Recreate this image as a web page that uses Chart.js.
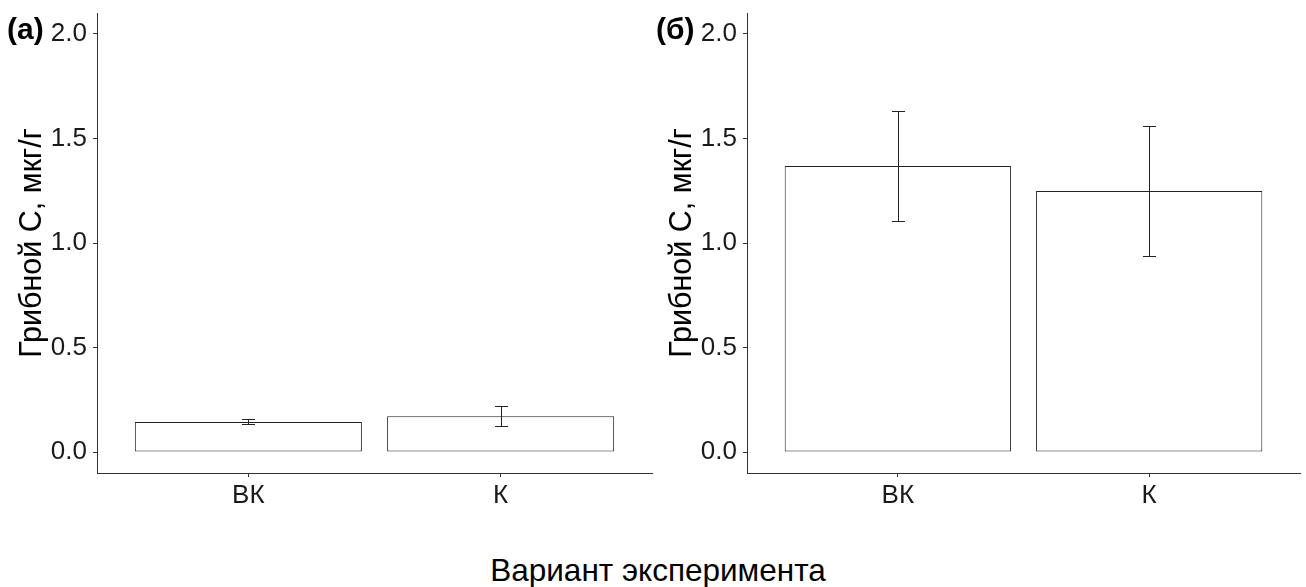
<!DOCTYPE html>
<html>
<head>
<meta charset="utf-8">
<script src="https://cdn.jsdelivr.net/npm/chart.js@4.4.0/dist/chart.umd.min.js"></script>
<style>
  body { margin: 0; background: #fff; width: 1306px; height: 587px; position: relative; overflow: hidden; font-family: "Liberation Sans", Arial, sans-serif; }
  .panel { position: absolute; top: 0; height: 530px; }
  .tag { position: absolute; top: 14px; font-size: 30px; line-height: 1; font-weight: bold; color: #000; }
  #xtitle { position: absolute; left: 0; width: 1316px; top: 552px; text-align: center; font-size: 31.5px; color: #000; }
</style>
</head>
<body>
<div class="panel" style="left:0;width:655px"><canvas id="chartA"></canvas></div>
<div class="panel" style="left:650px;width:656px"><canvas id="chartB"></canvas></div>
<div class="tag" style="left:7px">(а)</div>
<div class="tag" style="left:656px">(б)</div>
<div id="xtitle">Вариант эксперимента</div>
<script>
// подписи вариантов
const categories = ['ВК', 'К'];
const yTicks = [0, 0.5, 1.0, 1.5, 2.0];
const yTitle = 'Грибной С, мкг/г';

// (а) средние и ошибки
const meanA = [0.144, 0.172];
const errA = [0.012, 0.048];

// (б) средние и ошибки
const meanB = [1.368, 1.249];
const errB = [0.262, 0.311];

const axisColor = '#333';
const textColor = '#1a1a1a';

// усы погрешностей поверх столбцов
const errorBars = {
    id: 'errorBars',
    afterDatasetsDraw(chart, args, opts) {
        const ctx = chart.ctx;
        const meta = chart.getDatasetMeta(0);
        const y = chart.scales.y;
        ctx.save();
        ctx.strokeStyle = '#222';
        ctx.lineWidth = 1;
        meta.data.forEach(function(bar, i) {
            const m = opts.means[i], e = opts.errs[i];
            const x = Math.round(bar.x) + 0.5;
            const top = Math.round(y.getPixelForValue(m + e)) + 0.5;
            const bot = Math.round(y.getPixelForValue(m - e)) + 0.5;
            ctx.beginPath();
            ctx.moveTo(x, top); ctx.lineTo(x, bot);
            ctx.moveTo(x - 6.5, top); ctx.lineTo(x + 6.5, top);
            ctx.moveTo(x - 6.5, bot); ctx.lineTo(x + 6.5, bot);
            ctx.stroke();
        });
        ctx.restore();
    }
};

function makeChart(id, means, errs, padRight) {
    const ctx = document.getElementById(id).getContext('2d');
    return new Chart(ctx, {
        type: 'bar',
        data: {
            datasets: [{
                data: means.map((v, i) => ({ x: i + 1, y: v })),
                backgroundColor: '#ffffff',
                borderColor: '#222',
                borderWidth: 1,
                borderSkipped: false,
                barPercentage: 0.9,
                categoryPercentage: 1.0
            }]
        },
        plugins: [errorBars],
        options: {
            responsive: true,
            maintainAspectRatio: false,
            animation: false,
            layout: { padding: { top: 13, right: padRight, left: 0, bottom: 0 } },
            plugins: {
                legend: { display: false },
                tooltip: { enabled: false },
                errorBars: { means: means, errs: errs }
            },
            scales: {
                x: {
                    type: 'linear',
                    min: 0.4,
                    max: 2.6,
                    offset: false,
                    afterBuildTicks: s => { s.ticks = categories.map((c, i) => ({ value: i + 1 })); },
                    afterFit: s => { s.height = 57; s.paddingLeft = 0; s.paddingRight = 0; },
                    grid: { offset: false, drawOnChartArea: false, drawTicks: true, tickLength: 4, color: axisColor },
                    border: { display: true, color: axisColor, width: 1 },
                    ticks: {
                        padding: 3,
                        color: textColor,
                        font: { family: 'Liberation Sans', size: 26 },
                        callback: v => categories[v - 1]
                    }
                },
                y: {
                    min: -0.1,
                    max: 2.1,
                    afterBuildTicks: s => { s.ticks = yTicks.map(v => ({ value: v })); },
                    afterFit: s => { s.width = 97; s.paddingTop = 0; s.paddingBottom = 0; },
                    grid: { drawOnChartArea: false, drawTicks: true, tickLength: 4, color: axisColor },
                    border: { display: true, color: axisColor, width: 1 },
                    ticks: {
                        padding: 6,
                        color: textColor,
                        font: { family: 'Liberation Sans', size: 26 },
                        callback: v => v.toFixed(1)
                    },
                    title: {
                        display: true,
                        text: yTitle,
                        color: '#000',
                        font: { family: 'Liberation Sans', size: 30.5 },
                        padding: { top: 14, bottom: 0 }
                    }
                }
            }
        }
    });
}

makeChart('chartA', meanA, errA, 3);
makeChart('chartB', meanB, errB, 6);
</script>
</body>
</html>
